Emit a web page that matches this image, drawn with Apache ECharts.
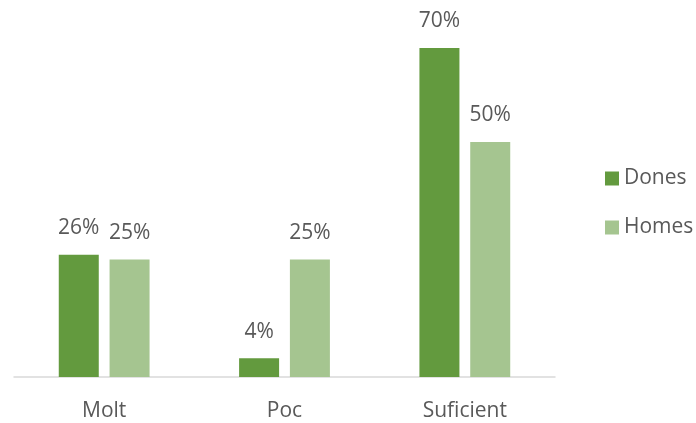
<!DOCTYPE html>
<html>
<head>
<meta charset="utf-8">
<script src="https://cdn.jsdelivr.net/npm/echarts@6/dist/echarts.min.js"></script>
<style>
  html, body { margin: 0; padding: 0; background: #fff; }
  #chart { width: 696px; height: 423px; }
</style>
</head>
<body>
<div id="chart"></div>
<script>
// Categories and percentages per group
const categories = ['Molt', 'Poc', 'Suficient'];
const dones = [26, 4, 70];
const homes = [25, 25, 50];

const labelStyle = {
  show: true,
  position: 'top',
  distance: 16,
  formatter: '{c}%',
  color: '#595959',
  fontSize: 21,
  fontFamily: 'Open Sans'
};

const chart = echarts.init(document.getElementById('chart'));
chart.setOption({
  animation: false,
  textStyle: { fontFamily: 'Open Sans' },
  grid: { left: 14, right: 141, top: 1, bottom: 46 },
  legend: {
    orient: 'vertical',
    left: 605,
    top: 168,
    padding: 0,
    itemWidth: 14,
    itemHeight: 14,
    itemGap: 28,
    icon: 'rect',
    textStyle: { color: '#595959', fontSize: 21, fontFamily: 'Open Sans' },
    data: ['Dones', 'Homes']
  },
  xAxis: {
    type: 'category',
    data: categories,
    axisLine: { lineStyle: { color: '#d9d9d9', width: 1.5 } },
    axisTick: { show: false },
    axisLabel: { color: '#595959', fontSize: 21, margin: 24, fontFamily: 'Open Sans' }
  },
  yAxis: {
    type: 'value',
    min: 0,
    max: 80,
    show: false,
    splitLine: { show: false }
  },
  series: [
    {
      name: 'Dones',
      type: 'bar',
      data: dones,
      barWidth: 40,
      barGap: '27%',
      itemStyle: { color: '#639a3e' },
      label: labelStyle
    },
    {
      name: 'Homes',
      type: 'bar',
      data: homes,
      barWidth: 40,
      itemStyle: { color: '#a5c590' },
      label: labelStyle
    }
  ]
});
</script>
</body>
</html>
